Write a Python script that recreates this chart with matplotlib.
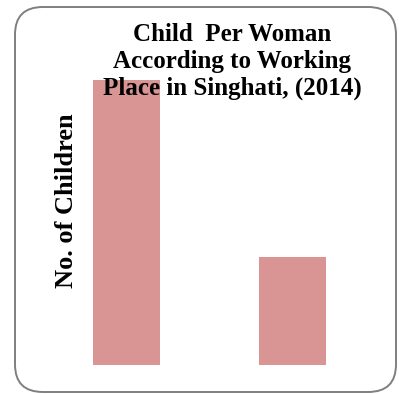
import matplotlib
matplotlib.use("Agg")
import matplotlib.pyplot as plt
from matplotlib.patches import FancyBboxPatch

categories = ["Inside Home", "Outside Home"]
values = [2.9, 1.1]
title = "Child  Per Woman\nAccording to Working\nPlace in Singhati, (2014)"
ylabel = "No. of Children"

W, H = 399, 394
fig = plt.figure(figsize=(W / 100, H / 100), dpi=100)
fig.patch.set_facecolor("white")

def fx(px):
    return px / W

def fy(py):
    return 1 - py / H

# rounded border
border = FancyBboxPatch((fx(15), fy(392)), fx(396) - fx(15), fy(7) - fy(392),
                        boxstyle="round,pad=0,rounding_size=0.07",
                        transform=fig.transFigure, facecolor="none",
                        edgecolor="#7f7f7f", linewidth=1.4, zorder=0)
fig.patches.append(border)

ax_left, ax_right = 43, 376
ax_top, ax_bottom = 80, 365
ax = fig.add_axes([fx(ax_left), fy(ax_bottom), fx(ax_right) - fx(ax_left), fy(ax_top) - fy(ax_bottom)])
ax.patch.set_alpha(0)
x = range(len(categories))
ax.bar(x, values, width=0.40, color="#D99594")
ax.set_xlim(-0.5, 1.5)
ax.set_ylim(0, max(values))
for s in ax.spines.values():
    s.set_visible(False)
ax.set_xticks([])
ax.set_yticks([])
ax.set_ylabel(ylabel, fontsize=19, fontweight="bold", family="Liberation Serif")
ax.yaxis.set_label_coords((78 - ax_left) / (ax_right - ax_left), (ax_bottom - 201) / (ax_bottom - ax_top))

fig.text(fx(232), fy(23), title, ha="center", va="top", fontsize=18,
         fontweight="bold", family="Liberation Serif", linespacing=1.2, zorder=5)

fig.savefig("out.png", dpi=100)
